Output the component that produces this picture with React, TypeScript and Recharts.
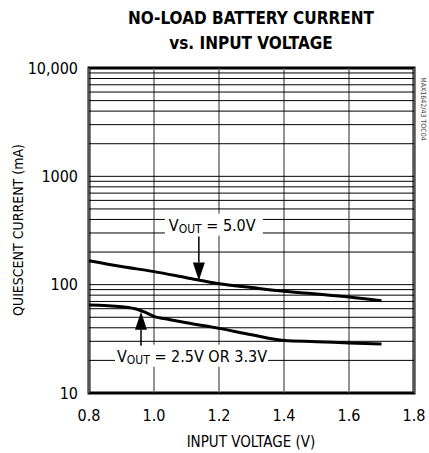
import {
  LineChart,
  Line,
  XAxis,
  YAxis,
  ReferenceLine,
  ReferenceArea,
  ReferenceDot,
} from "recharts";

const FONT = "'Liberation Sans Narrow', 'DejaVu Sans Condensed', 'Arial Narrow', sans-serif";

// x positions of each curve (V)
const voltage5v = [0.8, 0.9, 1.0, 1.1, 1.2, 1.3, 1.4, 1.5, 1.6, 1.7];
const current5v = [166, 147, 132, 116, 102, 94, 87, 82, 77, 71];

const voltageLow = [0.8, 0.9, 0.95, 0.97, 1.0, 1.05, 1.1, 1.2, 1.3, 1.4, 1.5, 1.6, 1.7];
const currentLow = [65, 62.5, 59, 56, 51, 47.5, 44.5, 39.5, 34.5, 30.5, 29.8, 29, 28.3];

const xTicks = [0.8, 1.0, 1.2, 1.4, 1.6, 1.8];
const yTicks = [10, 100, 1000, 10000];
const yTickLabels = ["10", "100", "1000", "10,000"];

const decades = [10, 100, 1000];
const minorSteps = [2, 3, 4, 5, 6, 7, 8, 9];

const data5v = voltage5v.map((v, i) => ({ v, i: current5v[i] }));
const dataLow = voltageLow.map((v, i) => ({ v, i: currentLow[i] }));
const hGrid = [
  ...yTicks,
  ...decades.flatMap((d) => minorSteps.map((s) => d * s)),
];

const txt = { fontFamily: FONT, fontStretch: "condensed" } as const;

const Annotation = ({ cx, cy, label, up, boxW, arrowLen }: any) => {
  if (cx == null || cy == null) return null;
  // arrow tip sits on the curve at (cx, cy)
  const dir = up ? 1 : -1;
  const tail = cy + dir * arrowLen;
  const head = cy + dir * 18;
  const textY = up ? tail + 16 : tail - 6;
  const boxX = up ? cx - 26 : cx - 34;
  return (
    <g>
      <rect x={boxX} y={textY - 17} width={boxW} height={22} fill="#fff" />
      <line x1={cx} y1={tail} x2={cx} y2={head} stroke="#000" strokeWidth={1.5} />
      <polygon points={`${cx},${cy} ${cx - 6},${head} ${cx + 6},${head}`} fill="#000" />
      <text x={boxX + (up ? 2 : 4)} y={textY} style={txt} fontSize={16} fill="#000">
        V
        <tspan fontSize={12} dy={2}>OUT</tspan>
        <tspan dy={-2}>{label}</tspan>
      </text>
    </g>
  );
};

export default function App() {
  return (
    <div style={{ position: "absolute", left: 0, top: 0, width: 429, height: 453, background: "#fff" }}>
      <LineChart
        width={429}
        height={453}
        margin={{ top: 68, right: 15, bottom: 0, left: 0 }}
      >
        <XAxis
          type="number"
          dataKey="v"
          domain={[0.8, 1.8]}
          ticks={xTicks}
          height={60}
          tickFormatter={(v: number) => v.toFixed(1)}
          axisLine={false}
          tickLine={false}
          tickSize={0}
          tickMargin={17}
          tick={{ fill: "#000", fontSize: 16, style: txt }}
          allowDuplicatedCategory={false}
        />
        <YAxis
          type="number"
          scale="log"
          domain={[10, 10000]}
          ticks={yTicks}
          allowDataOverflow
          width={89}
          tickFormatter={(v: number) => yTickLabels[yTicks.indexOf(v)]}
          axisLine={false}
          tickLine={false}
          tickSize={0}
          tickMargin={11}
          tick={{ fill: "#000", fontSize: 16, style: txt }}
        />
        {xTicks.map((x) => (
          <ReferenceLine key={"vx" + x} x={x} stroke="#6f6f6f" strokeWidth={1.5} />
        ))}
        {hGrid.map((y) => (
          <ReferenceLine key={"hy" + y} y={y} stroke="#000" strokeWidth={1} />
        ))}
        <ReferenceArea
          x1={0.8}
          x2={1.8}
          y1={10}
          y2={10000}
          fill="none"
          fillOpacity={0}
          stroke="#000"
          strokeWidth={3}
        />
        <Line
          data={data5v}
          dataKey="i"
          type="monotone"
          stroke="#000"
          strokeWidth={3}
          dot={false}
          isAnimationActive={false}
        />
        <Line
          data={dataLow}
          dataKey="i"
          type="monotone"
          stroke="#000"
          strokeWidth={3}
          dot={false}
          isAnimationActive={false}
        />
        <ReferenceDot
          x={1.138}
          y={109}
          r={0}
          shape={(p: any) => (
            <Annotation cx={p.cx} cy={p.cy} label=" = 5.0V" up={false} boxW={98} arrowLen={44} />
          )}
        />
        <ReferenceDot
          x={0.96}
          y={56.3}
          r={0}
          shape={(p: any) => (
            <Annotation cx={p.cx} cy={p.cy} label=" = 2.5V OR 3.3V" up={true} boxW={153} arrowLen={34} />
          )}
        />
      </LineChart>
      <svg
        width={429}
        height={453}
        style={{ position: "absolute", left: 0, top: 0, pointerEvents: "none" }}
      >
        <text x={251} y={24} textAnchor="middle" style={txt} fontWeight="bold" fontSize={17}>
          NO-LOAD BATTERY CURRENT
        </text>
        <text x={251} y={49} textAnchor="middle" style={txt} fontWeight="bold" fontSize={17}>
          vs. INPUT VOLTAGE
        </text>
        <text x={251} y={447} textAnchor="middle" style={txt} fontSize={15}>
          INPUT VOLTAGE (V)
        </text>
        <text
          x={23}
          y={230}
          textAnchor="middle"
          style={txt}
          fontSize={14}
          transform="rotate(-90 23 230)"
        >
          QUIESCENT CURRENT (mA)
        </text>
        <text
          x={421}
          y={109}
          textAnchor="middle"
          style={txt}
          fontSize={7}
          fill="#444"
          transform="rotate(90 421 109)"
        >
          MAX1642/43 TOC04
        </text>
      </svg>
    </div>
  );
}
